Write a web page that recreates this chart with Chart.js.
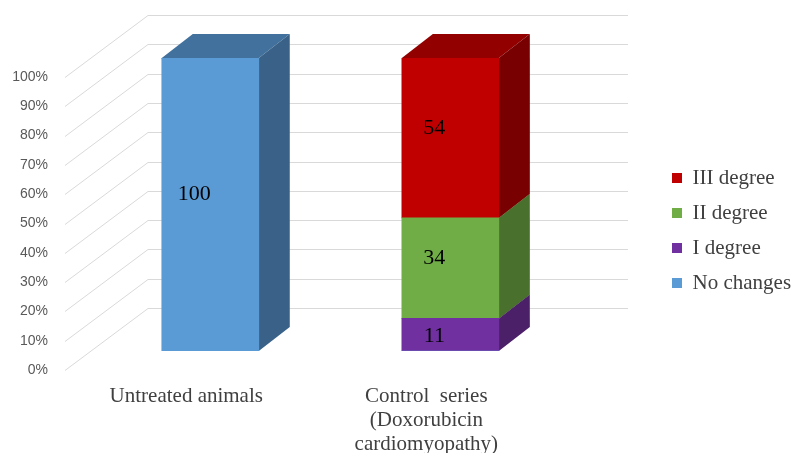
<!DOCTYPE html>
<html>
<head>
<meta charset="utf-8">
<script src="https://cdn.jsdelivr.net/npm/chart.js@4"></script>
<style>
  html, body { margin: 0; padding: 0; background: #fff; }
  #wrap { width: 793px; height: 453px; }
</style>
</head>
<body>
<div id="wrap"><canvas id="chart" width="793" height="453"></canvas></div>
<script>
// categories and series (raw values as printed on the bars)
const categories = ['Untreated animals', ['Control  series', '(Doxorubicin', 'cardiomyopathy)']];
const seriesNames = ['No changes', 'I degree', 'II degree', 'III degree'];
const noChanges = [100, 0];
const degree1 = [0, 11];
const degree2 = [0, 34];
const degree3 = [0, 54];
const yTicks = [0, 10, 20, 30, 40, 50, 60, 70, 80, 90, 100];

const frontColors = ['#5B9BD5', '#7030A0', '#70AD47', '#C00000'];
const sideColors = ['#3A6289', '#4B2069', '#4A702E', '#780000'];
const topColors = ['#41719C', '#5A2683', '#5B8C3A', '#920000'];

// 100% stacked: each column is shown as share of its total
const allSeries = [noChanges, degree1, degree2, degree3];
const totals = categories.map((c, i) => allSeries.reduce((s, arr) => s + arr[i], 0));

// depth of the 3D boxes
const DX = 31, DY = -24;

const depthPlugin = {
  id: 'depth',
  beforeDatasetsDraw(chart) {
    const ctx = chart.ctx;
    const y = chart.scales.y;
    const area = chart.chartArea;
    ctx.save();
    // grid: diagonal floor lines + back wall lines
    ctx.strokeStyle = '#D9D9D9';
    ctx.lineWidth = 1;
    yTicks.forEach(v => {
      const p = Math.round(y.getPixelForValue(v)) + 0.5;
      ctx.beginPath();
      ctx.moveTo(area.left - 25, p + 19);
      ctx.lineTo(area.left + 58, p - 43);
      ctx.lineTo(area.right - 30, p - 43);
      ctx.stroke();
    });
    // sides and tops, bottom segment first
    chart.data.datasets.forEach((ds, di) => {
      const meta = chart.getDatasetMeta(di);
      meta.data.forEach(bar => {
        const p = bar.getProps(['x', 'y', 'base', 'width']);
        if (Math.abs(p.base - p.y) < 0.5) return;
        const l = p.x - p.width / 2, r = p.x + p.width / 2;
        ctx.fillStyle = topColors[di];
        ctx.beginPath();
        ctx.moveTo(l, p.y);
        ctx.lineTo(l + DX, p.y + DY);
        ctx.lineTo(r + DX, p.y + DY);
        ctx.lineTo(r, p.y);
        ctx.closePath();
        ctx.fill();
        ctx.fillStyle = sideColors[di];
        ctx.beginPath();
        ctx.moveTo(r, p.y);
        ctx.lineTo(r + DX, p.y + DY);
        ctx.lineTo(r + DX, p.base + DY);
        ctx.lineTo(r, p.base);
        ctx.closePath();
        ctx.fill();
      });
    });
    ctx.restore();
  },
  afterDatasetsDraw(chart) {
    const ctx = chart.ctx;
    ctx.save();
    ctx.font = '22px "Liberation Serif", "Times New Roman", serif';
    ctx.fillStyle = '#000';
    ctx.textAlign = 'center';
    ctx.textBaseline = 'middle';
    chart.data.datasets.forEach((ds, di) => {
      const meta = chart.getDatasetMeta(di);
      meta.data.forEach((bar, i) => {
        const raw = allSeries[di][i];
        if (!raw) return;
        const p = bar.getProps(['x', 'y', 'base']);
        const h = p.base - p.y;
        const off = Math.min(12, Math.max(0, (h - 32) / 3));
        ctx.fillText(String(raw), p.x - 16, (p.y + p.base) / 2 - off + 2);
      });
    });
    ctx.restore();
  }
};

const datasets = allSeries.map((arr, di) => ({
  label: seriesNames[di],
  data: arr.map((v, i) => ({ x: i, y: v / totals[i] * 100 })),
  backgroundColor: frontColors[di],
  borderWidth: 0,
  barThickness: 97
}));

new Chart(document.getElementById('chart'), {
  type: 'bar',
  data: { datasets },
  plugins: [depthPlugin],
  options: {
    responsive: false,
    animation: false,
    layout: { padding: { top: 58, bottom: 0, left: 0, right: 0 } },
    scales: {
      x: {
        type: 'linear',
        stacked: true,
        offset: false,
        min: -0.501,
        max: 1.865,
        grid: { display: false },
        border: { display: false },
        afterFit: s => { s.height = 102; },
        ticks: {
          stepSize: 1,
          includeBounds: false,
          autoSkip: false,
          maxRotation: 0,
          labelOffset: -24,
          padding: 25,
          color: '#404040',
          font: { family: '"Liberation Serif", "Times New Roman", serif', size: 21, lineHeight: 1.15 },
          callback: v => (Number.isInteger(v) && categories[v] !== undefined) ? categories[v] : ''
        }
      },
      y: {
        stacked: true,
        min: 0,
        max: 100,
        grid: { display: false },
        border: { display: false },
        afterFit: s => { s.width = 90; },
        ticks: {
          stepSize: 10,
          labelOffset: 19,
          padding: 34,
          color: '#595959',
          font: { family: '"Liberation Sans", Arial, sans-serif', size: 14 },
          callback: v => v + '%'
        }
      }
    },
    plugins: {
      legend: {
        position: 'right',
        align: 'start',
        reverse: true,
        maxWidth: 135,
        title: { display: true, text: ' ', font: { size: 10, lineHeight: 1.2 }, padding: { top: 83.5, bottom: 0 } },
        labels: {
          boxWidth: 10,
          boxHeight: 10,
          padding: 14,
          color: '#404040',
          font: { family: '"Liberation Serif", "Times New Roman", serif', size: 21 }
        }
      },
      tooltip: { enabled: false }
    }
  }
});
</script>
</body>
</html>
